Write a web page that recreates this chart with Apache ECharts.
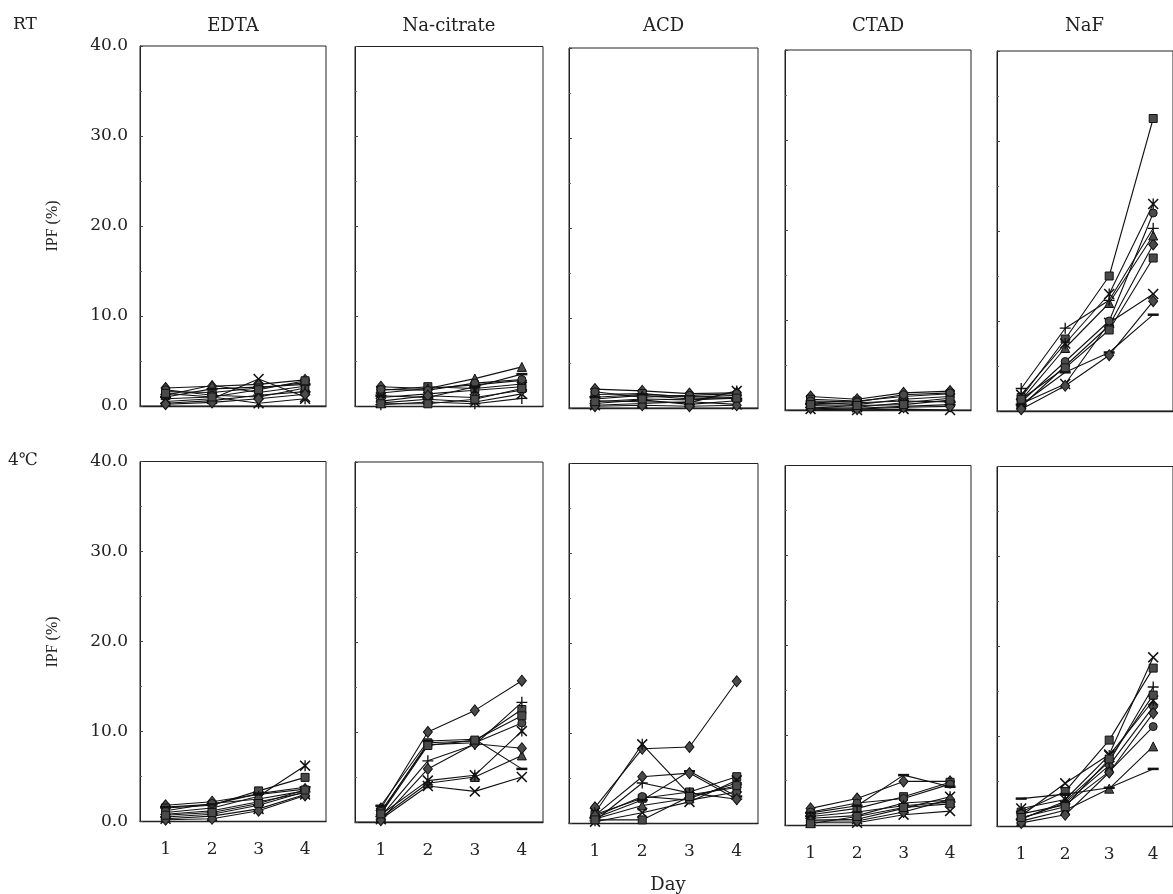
<!DOCTYPE html>
<html>
<head>
<meta charset="utf-8">
<script src="https://cdn.jsdelivr.net/npm/echarts@6/dist/echarts.min.js"></script>
<style>
html,body{margin:0;padding:0;background:#fff;}
#chart{width:1173px;height:894px;}
</style>
</head>
<body>
<div id="chart"></div>
<script>
// ---------- data ----------
const DAYS = [1, 2, 3, 4];
const ROW_LABELS = ['RT', '4\u2103'];
const COL_LABELS = ['EDTA', 'Na-citrate', 'ACD', 'CTAD', 'NaF'];
const Y_TICKS = [0, 10, 20, 30, 40];
const X_TICKS = [1, 2, 3, 4];

// each panel: 10 subjects, values for day 1..4 (IPF %)
const RT_EDTA = [
  [2.0, 2.2, 2.4, 2.9], [1.6, 1.5, 2.0, 2.6], [1.2, 2.3, 1.5, 2.2], [0.5, 0.8, 3.0, 1.0], [0.8, 1.0, 0.3, 0.8],
  [1.8, 1.2, 1.0, 2.0], [0.3, 0.6, 1.2, 1.6], [1.0, 1.9, 2.1, 2.4], [0.2, 0.4, 0.8, 1.3], [1.4, 1.0, 1.8, 2.8]
];
const RT_NACIT = [
  [2.2, 2.0, 2.4, 2.9], [1.8, 2.2, 2.0, 2.5], [1.5, 2.0, 3.1, 4.4], [0.4, 0.8, 0.5, 1.4], [1.0, 1.4, 1.8, 2.2],
  [1.9, 1.8, 2.6, 3.0], [0.2, 0.5, 0.3, 0.9], [1.2, 1.0, 2.2, 3.6], [0.6, 1.2, 1.0, 1.8], [0.3, 0.3, 0.8, 2.0]
];
const RT_ACD = [
  [2.1, 1.9, 1.6, 1.7], [1.5, 1.6, 1.2, 1.4], [1.0, 1.4, 1.0, 1.2], [0.3, 0.5, 0.7, 0.4], [0.8, 0.7, 0.6, 1.9],
  [1.8, 1.2, 1.4, 1.6], [0.5, 0.9, 0.4, 0.8], [1.2, 1.5, 1.3, 1.0], [0.2, 0.3, 0.2, 0.3], [0.7, 1.0, 0.9, 1.1]
];
const RT_CTAD = [
  [1.5, 1.2, 1.9, 2.1], [1.2, 1.0, 1.5, 1.8], [0.9, 0.6, 1.2, 1.5], [0.1, 0.0, 0.1, 0.0], [0.5, 0.3, 0.8, 1.3],
  [1.0, 0.9, 1.7, 1.9], [0.3, 0.2, 0.4, 0.6], [0.7, 0.8, 1.0, 0.9], [0.2, 0.1, 0.3, 0.4], [0.6, 0.5, 0.6, 1.1]
];
const RT_NAF = [
  [0.5, 5.0, 9.5, 18.5], [1.5, 8.0, 15.0, 32.5], [1.2, 7.0, 12.0, 19.5], [0.8, 3.0, 9.8, 13.0], [1.8, 7.5, 13.0, 23.0],
  [1.0, 5.5, 10.0, 22.0], [2.5, 9.2, 12.3, 20.3], [0.7, 4.3, 6.5, 10.7], [0.2, 2.8, 6.2, 12.2], [1.3, 4.8, 9.0, 17.0]
];
const C4_EDTA = [
  [1.8, 2.2, 3.0, 3.6], [1.5, 1.8, 3.4, 4.9], [0.8, 1.2, 2.2, 3.2], [0.3, 0.6, 1.4, 3.0], [1.0, 1.5, 2.8, 6.2],
  [1.2, 2.0, 2.5, 3.4], [0.5, 0.8, 1.8, 3.3], [1.6, 1.9, 3.1, 3.8], [0.2, 0.3, 1.2, 2.9], [0.7, 1.0, 2.0, 3.5]
];
const C4_NACIT = [
  [1.5, 10.0, 12.4, 15.7], [1.0, 8.8, 9.0, 12.5], [0.5, 4.3, 5.0, 7.4], [0.3, 4.0, 3.4, 5.0], [0.8, 4.6, 5.2, 10.1],
  [1.2, 8.6, 8.8, 11.0], [0.6, 6.8, 8.6, 13.3], [1.8, 9.0, 9.2, 5.9], [0.2, 5.9, 8.7, 8.2], [0.9, 8.5, 9.1, 11.8]
];
const C4_ACD = [
  [1.8, 8.3, 8.5, 15.8], [1.0, 2.8, 3.5, 5.2], [0.5, 2.0, 2.8, 4.5], [0.2, 1.2, 2.4, 4.8], [1.2, 8.8, 3.2, 4.0],
  [0.8, 3.0, 2.6, 3.5], [0.3, 4.5, 3.4, 2.7], [0.6, 2.6, 5.8, 3.0], [0.9, 5.2, 5.6, 2.7], [0.4, 0.4, 3.0, 4.2]
];
const C4_CTAD = [
  [1.9, 3.0, 4.9, 4.9], [1.2, 1.9, 3.2, 4.8], [0.8, 1.1, 2.5, 2.8], [0.3, 0.3, 1.2, 1.6], [0.6, 0.7, 1.9, 3.2],
  [1.5, 2.5, 3.0, 4.6], [1.0, 1.5, 2.2, 2.6], [1.4, 2.2, 5.6, 4.3], [0.5, 0.5, 1.5, 2.9], [0.2, 1.0, 2.0, 2.4]
];
const C4_NAF = [
  [0.9, 2.6, 6.8, 13.3], [1.6, 3.9, 9.6, 17.6], [0.6, 1.8, 4.2, 8.9], [1.2, 4.8, 8.0, 18.8], [2.0, 3.0, 7.9, 14.0],
  [1.4, 2.4, 6.1, 11.1], [0.8, 2.8, 7.2, 15.5], [3.1, 3.6, 4.3, 6.4], [0.4, 1.3, 6.0, 12.6], [1.0, 2.2, 7.5, 14.6]
];
const PANELS = [
  [RT_EDTA, RT_NACIT, RT_ACD, RT_CTAD, RT_NAF],
  [C4_EDTA, C4_NACIT, C4_ACD, C4_CTAD, C4_NAF]
];

// ---------- styles ----------
const XPATH = 'path://M0,1 L1,0 L5,4 L9,0 L10,1 L6,5 L10,9 L9,10 L5,6 L1,10 L0,9 L4,5 Z';
const ASTPATH = 'path://M0,1 L1,0 L5,4 L9,0 L10,1 L6,5 L10,9 L9,10 L5,6 L1,10 L0,9 L4,5 Z M4.4,0 L5.6,0 L5.6,10 L4.4,10 Z';
const PLUSPATH = 'path://M4.4,0 L5.6,0 L5.6,4.4 L10,4.4 L10,5.6 L5.6,5.6 L5.6,10 L4.4,10 L4.4,5.6 L0,5.6 L0,4.4 L4.4,4.4 Z';
const DASHPATH = 'path://M0,0 L10,0 L10,2 L0,2 Z';
const SYMS = [
  { s: 'diamond', size: [9, 11], solid: true },
  { s: 'rect', size: 8, solid: true },
  { s: 'triangle', size: 9, solid: true },
  { s: XPATH, size: 11, solid: false },
  { s: ASTPATH, size: 11, solid: false },
  { s: 'circle', size: 8, solid: true },
  { s: PLUSPATH, size: 11, solid: false },
  { s: DASHPATH, size: [11, 2.5], solid: false },
  { s: 'diamond', size: [9, 11], solid: true },
  { s: 'rect', size: 8, solid: true }
];

const LEFTS = [140, 355, 569, 785, 997];
const WIDTHS = [186, 188, 189, 186, 187];
const SKEW = [0, 0.5, 2, 4, 5];
const ROW_TOPS = [46, 461.5];
const H = 360;
const FONT = 'DejaVu Serif';

const grids = [], xAxes = [], yAxes = [], series = [];
let gi = 0;
for (let r = 0; r < 2; r++) {
  for (let c = 0; c < 5; c++) {
    grids.push({
      left: LEFTS[c], top: ROW_TOPS[r] + SKEW[c], width: WIDTHS[c], height: H,
      show: true, borderColor: '#222', borderWidth: 1, backgroundColor: 'transparent'
    });
    xAxes.push({
      type: 'value', gridIndex: gi, min: 0.45, max: 4.45,
      axisLine: { show: true, onZero: false, lineStyle: { color: '#222', width: 1.4 } },
      axisTick: { show: false },
      splitLine: { show: false },
      axisLabel: {
        show: r === 1, customValues: X_TICKS, margin: 20,
        fontFamily: FONT, fontSize: 17, color: '#222'
      }
    });
    yAxes.push({
      type: 'value', gridIndex: gi, min: Y_TICKS[0], max: Y_TICKS[Y_TICKS.length - 1], interval: 10,
      axisLine: { show: true, lineStyle: { color: '#222', width: 1 } },
      axisTick: { show: true, inside: true, length: 3, lineStyle: { color: '#444' } },
      minorTick: { show: true, splitNumber: 2, length: 2, lineStyle: { color: '#666' } },
      splitLine: { show: false },
      axisLabel: {
        show: c === 0, margin: 12, fontFamily: FONT, fontSize: 17, color: '#222',
        formatter: v => v.toFixed(1)
      }
    });
    const panel = PANELS[r][c];
    panel.forEach((vals, k) => {
      const st = SYMS[k % SYMS.length];
      series.push({
        type: 'line', xAxisIndex: gi, yAxisIndex: gi,
        data: DAYS.map((d, i) => [d, vals[i]]),
        symbol: st.s, symbolSize: st.size, showAllSymbol: true,
        lineStyle: { color: '#111', width: 1.1 },
        itemStyle: st.solid
          ? { color: '#4a4a4a', borderColor: '#111', borderWidth: 1 }
          : { color: '#111', borderWidth: 0 },
        emphasis: { disabled: true },
        silent: true, animation: false, z: 2
      });
    });
    gi++;
  }
}

const graphics = [];
// corner row labels
graphics.push({ type: 'text', left: 13, top: 16, style: { text: ROW_LABELS[0], font: '17px ' + FONT, fill: '#222' } });
graphics.push({ type: 'text', left: 8, top: 452, style: { text: ROW_LABELS[1], font: '17px ' + FONT, fill: '#222' } });
// column titles
COL_LABELS.forEach((t, c) => {
  graphics.push({
    type: 'text', x: LEFTS[c] + WIDTHS[c] / 2 - (c === 4 ? 6 : 0), y: 26,
    style: { text: t, font: '18px ' + FONT, fill: '#222', align: 'center', verticalAlign: 'middle' }
  });
});
// y axis titles
[226, 642].forEach(cy => {
  graphics.push({
    type: 'text', x: 53, y: cy, rotation: Math.PI / 2,
    style: { text: 'IPF (%)', font: '16px "Liberation Serif"', fill: '#222', align: 'center', verticalAlign: 'middle' }
  });
});
// x axis title
graphics.push({
  type: 'text', x: 668, y: 885,
  style: { text: 'Day', font: '18px ' + FONT, fill: '#222', align: 'center', verticalAlign: 'middle' }
});

const chart = echarts.init(document.getElementById('chart'), null, { renderer: 'canvas' });
chart.setOption({
  backgroundColor: '#fff',
  animation: false,
  grid: grids,
  xAxis: xAxes,
  yAxis: yAxes,
  series: series,
  graphic: graphics
});
</script>
</body>
</html>
